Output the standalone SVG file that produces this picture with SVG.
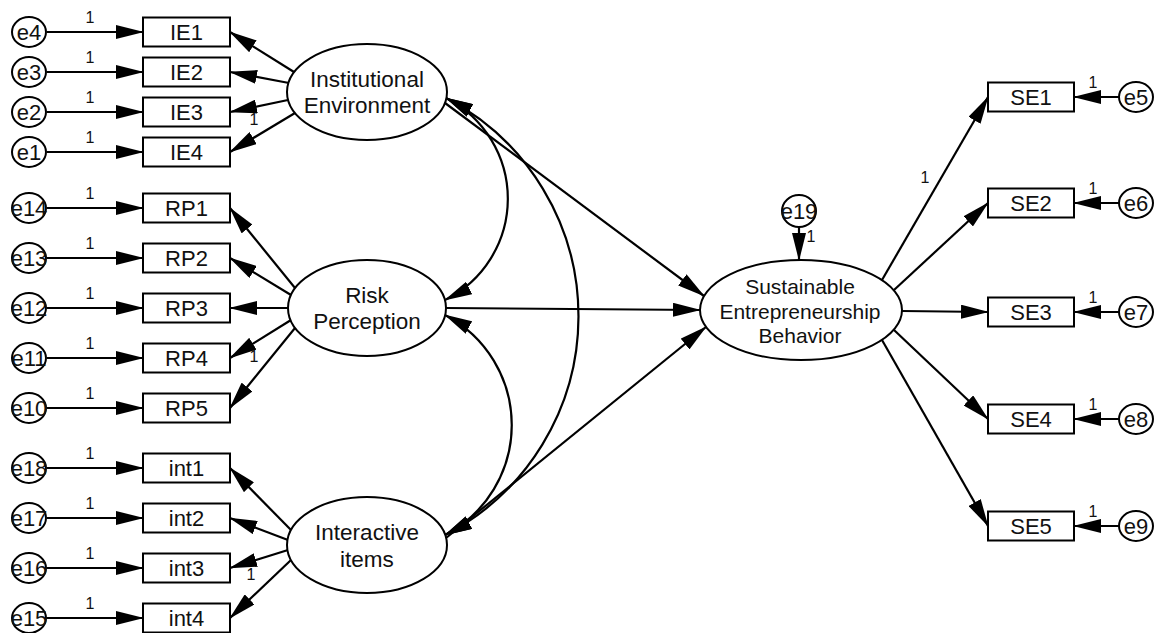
<svg xmlns="http://www.w3.org/2000/svg" width="1156" height="633" viewBox="0 0 1156 633">
<style>
text{font-family:"Liberation Sans",Arial,Helvetica,sans-serif;fill:#111;text-anchor:middle}
.box{fill:#fff;stroke:#000;stroke-width:2}
.lat{fill:#fff;stroke:#000;stroke-width:2}
.err{fill:#fff;stroke:#000;stroke-width:2}
.bl{font-size:22px}
.ll{font-size:22.5px}
.sl{font-size:21px}
.el{font-size:22px}
.one{font-size:16px}
.c{fill:none;stroke:#000;stroke-width:2.2;marker-end:url(#ah)}
.d{fill:none;stroke:#000;stroke-width:2.2;marker-start:url(#ah);marker-end:url(#ah)}
</style>
<defs>
<marker id="ah" viewBox="0 0 28 14" refX="27" refY="7" markerWidth="28" markerHeight="14" markerUnits="userSpaceOnUse" orient="auto-start-reverse"><path d="M0,0 L28,7 L0,14 z" fill="#000"/></marker>
</defs>
<rect width="1156" height="633" fill="#fff"/>

<g id="connectors">
<line class="c" x1="47" y1="32" x2="143" y2="32"/>
<line class="c" x1="47" y1="72" x2="143" y2="72"/>
<line class="c" x1="47" y1="112" x2="143" y2="112"/>
<line class="c" x1="47" y1="152" x2="143" y2="152"/>
<line class="c" x1="47" y1="208" x2="143" y2="208"/>
<line class="c" x1="47" y1="258" x2="143" y2="258"/>
<line class="c" x1="47" y1="308" x2="143" y2="308"/>
<line class="c" x1="47" y1="358" x2="143" y2="358"/>
<line class="c" x1="47" y1="408" x2="143" y2="408"/>
<line class="c" x1="47" y1="468" x2="143" y2="468"/>
<line class="c" x1="47" y1="518" x2="143" y2="518"/>
<line class="c" x1="47" y1="568" x2="143" y2="568"/>
<line class="c" x1="47" y1="618" x2="143" y2="618"/>
<line class="c" x1="294" y1="72" x2="230" y2="32"/>
<line class="c" x1="289" y1="83" x2="230" y2="72"/>
<line class="c" x1="288" y1="100" x2="230" y2="112"/>
<line class="c" x1="295" y1="113" x2="230" y2="152"/>
<line class="c" x1="295" y1="288" x2="230" y2="208"/>
<line class="c" x1="291" y1="295" x2="230" y2="258"/>
<line class="c" x1="288" y1="308" x2="230" y2="308"/>
<line class="c" x1="291" y1="320" x2="230" y2="358"/>
<line class="c" x1="295" y1="328" x2="230" y2="408"/>
<line class="c" x1="291" y1="530" x2="230" y2="468"/>
<line class="c" x1="288" y1="540" x2="230" y2="518"/>
<line class="c" x1="288" y1="550" x2="230" y2="568"/>
<line class="c" x1="291" y1="560" x2="230" y2="618"/>
<line class="c" x1="445" y1="103" x2="704" y2="296"/>
<line class="c" x1="446" y1="308" x2="700" y2="310"/>
<line class="c" x1="446" y1="538" x2="706" y2="327"/>
<path class="d" d="M446,98 A113,113 0 0 1 445,300"/>
<path class="d" d="M446,98 A246,246 0 0 1 445,535"/>
<path class="d" d="M445,315 A124,124 0 0 1 445,535"/>
<line class="c" x1="882" y1="280" x2="988" y2="97"/>
<line class="c" x1="894" y1="290" x2="988" y2="203"/>
<line class="c" x1="902" y1="311" x2="988" y2="312"/>
<line class="c" x1="894" y1="330" x2="988" y2="419"/>
<line class="c" x1="882" y1="340" x2="988" y2="526"/>
<line class="c" x1="1119" y1="97" x2="1074" y2="97"/>
<line class="c" x1="1119" y1="203" x2="1074" y2="203"/>
<line class="c" x1="1119" y1="312" x2="1074" y2="312"/>
<line class="c" x1="1119" y1="419" x2="1074" y2="419"/>
<line class="c" x1="1119" y1="526" x2="1074" y2="526"/>
<line class="c" x1="799" y1="227" x2="799" y2="260"/>
<g class="one">
<text x="90" y="23">1</text>
<text x="90" y="63">1</text>
<text x="90" y="103">1</text>
<text x="90" y="143">1</text>
<text x="90" y="199">1</text>
<text x="90" y="249">1</text>
<text x="90" y="299">1</text>
<text x="90" y="349">1</text>
<text x="90" y="399">1</text>
<text x="90" y="459">1</text>
<text x="90" y="509">1</text>
<text x="90" y="559">1</text>
<text x="90" y="609">1</text>
<text x="254" y="125">1</text>
<text x="254" y="362">1</text>
<text x="251" y="580">1</text>
<text x="925" y="183">1</text>
<text x="1093" y="88">1</text>
<text x="1093" y="194">1</text>
<text x="1093" y="303">1</text>
<text x="1093" y="410">1</text>
<text x="1093" y="517">1</text>
<text x="811" y="242">1</text>
</g>
</g>

<g id="IE"><ellipse class="lat" cx="367" cy="92" rx="80" ry="48"/><text class="ll" x="367" y="87">Institutional</text><text class="ll" x="367" y="113">Environment</text></g>
<g id="RP"><ellipse class="lat" cx="367" cy="308" rx="79" ry="48"/><text class="ll" x="367" y="303">Risk</text><text class="ll" x="367" y="329">Perception</text></g>
<g id="II"><ellipse class="lat" cx="367" cy="545" rx="80" ry="48"/><text class="ll" x="367" y="540">Interactive</text><text class="ll" x="367" y="567">items</text></g>
<g id="SEB"><ellipse class="lat" cx="801" cy="310" rx="101" ry="50"/><text class="sl" x="800" y="294">Sustainable</text><text class="sl" x="800" y="319">Entrepreneurship</text><text class="sl" x="800" y="343">Behavior</text></g>

<g id="IE1"><rect class="box" x="143" y="17.5" width="87" height="29"/><text class="bl" x="186.5" y="40">IE1</text></g>
<g id="IE2"><rect class="box" x="143" y="57.5" width="87" height="29"/><text class="bl" x="186.5" y="80">IE2</text></g>
<g id="IE3"><rect class="box" x="143" y="97.5" width="87" height="29"/><text class="bl" x="186.5" y="120">IE3</text></g>
<g id="IE4"><rect class="box" x="143" y="137.5" width="87" height="29"/><text class="bl" x="186.5" y="160">IE4</text></g>
<g id="RP1"><rect class="box" x="143" y="193.5" width="87" height="29"/><text class="bl" x="186.5" y="216">RP1</text></g>
<g id="RP2"><rect class="box" x="143" y="243.5" width="87" height="29"/><text class="bl" x="186.5" y="266">RP2</text></g>
<g id="RP3"><rect class="box" x="143" y="293.5" width="87" height="29"/><text class="bl" x="186.5" y="316">RP3</text></g>
<g id="RP4"><rect class="box" x="143" y="343.5" width="87" height="29"/><text class="bl" x="186.5" y="366">RP4</text></g>
<g id="RP5"><rect class="box" x="143" y="393.5" width="87" height="29"/><text class="bl" x="186.5" y="416">RP5</text></g>
<g id="int1"><rect class="box" x="143" y="453.5" width="87" height="29"/><text class="bl" x="186.5" y="476">int1</text></g>
<g id="int2"><rect class="box" x="143" y="503.5" width="87" height="29"/><text class="bl" x="186.5" y="526">int2</text></g>
<g id="int3"><rect class="box" x="143" y="553.5" width="87" height="29"/><text class="bl" x="186.5" y="576">int3</text></g>
<g id="int4"><rect class="box" x="143" y="603.5" width="87" height="29"/><text class="bl" x="186.5" y="626">int4</text></g>
<g id="SE1"><rect class="box" x="988" y="82.5" width="86" height="29"/><text class="bl" x="1031" y="105">SE1</text></g>
<g id="SE2"><rect class="box" x="988" y="188.5" width="86" height="29"/><text class="bl" x="1031" y="211">SE2</text></g>
<g id="SE3"><rect class="box" x="988" y="297.5" width="86" height="29"/><text class="bl" x="1031" y="320">SE3</text></g>
<g id="SE4"><rect class="box" x="988" y="404.5" width="86" height="29"/><text class="bl" x="1031" y="427">SE4</text></g>
<g id="SE5"><rect class="box" x="988" y="511.5" width="86" height="29"/><text class="bl" x="1031" y="534">SE5</text></g>

<g id="e4"><ellipse class="err" cx="29" cy="32" rx="17" ry="15"/><text class="el" x="29" y="40">e4</text></g>
<g id="e3"><ellipse class="err" cx="29" cy="72" rx="17" ry="15"/><text class="el" x="29" y="80">e3</text></g>
<g id="e2"><ellipse class="err" cx="29" cy="112" rx="17" ry="15"/><text class="el" x="29" y="120">e2</text></g>
<g id="e1"><ellipse class="err" cx="29" cy="152" rx="17" ry="15"/><text class="el" x="29" y="160">e1</text></g>
<g id="e14"><ellipse class="err" cx="29" cy="208" rx="17" ry="15"/><text class="el" x="29" y="216">e14</text></g>
<g id="e13"><ellipse class="err" cx="29" cy="258" rx="17" ry="15"/><text class="el" x="29" y="266">e13</text></g>
<g id="e12"><ellipse class="err" cx="29" cy="308" rx="17" ry="15"/><text class="el" x="29" y="316">e12</text></g>
<g id="e11"><ellipse class="err" cx="29" cy="358" rx="17" ry="15"/><text class="el" x="29" y="366">e11</text></g>
<g id="e10"><ellipse class="err" cx="29" cy="408" rx="17" ry="15"/><text class="el" x="29" y="416">e10</text></g>
<g id="e18"><ellipse class="err" cx="29" cy="468" rx="17" ry="15"/><text class="el" x="29" y="476">e18</text></g>
<g id="e17"><ellipse class="err" cx="29" cy="518" rx="17" ry="15"/><text class="el" x="29" y="526">e17</text></g>
<g id="e16"><ellipse class="err" cx="29" cy="568" rx="17" ry="15"/><text class="el" x="29" y="576">e16</text></g>
<g id="e15"><ellipse class="err" cx="29" cy="618" rx="17" ry="15"/><text class="el" x="29" y="626">e15</text></g>
<g id="e5"><ellipse class="err" cx="1136" cy="97" rx="17" ry="15"/><text class="el" x="1136" y="105">e5</text></g>
<g id="e6"><ellipse class="err" cx="1136" cy="203" rx="17" ry="15"/><text class="el" x="1136" y="211">e6</text></g>
<g id="e7"><ellipse class="err" cx="1136" cy="312" rx="17" ry="15"/><text class="el" x="1136" y="320">e7</text></g>
<g id="e8"><ellipse class="err" cx="1136" cy="419" rx="17" ry="15"/><text class="el" x="1136" y="427">e8</text></g>
<g id="e9"><ellipse class="err" cx="1136" cy="526" rx="17" ry="15"/><text class="el" x="1136" y="534">e9</text></g>
<g id="e19"><ellipse class="err" cx="799" cy="211" rx="17" ry="16"/><text class="el" x="799" y="219">e19</text></g>
</svg>
